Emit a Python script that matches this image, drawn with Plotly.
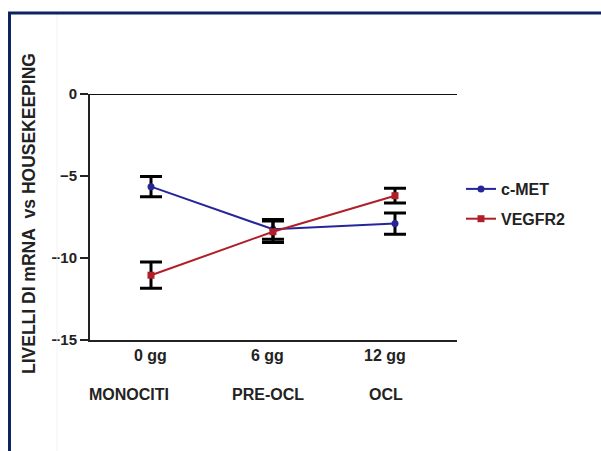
import plotly.graph_objects as go

# ---- data ----
days = [0, 6, 12]
day_labels = ["0 gg", "6 gg", "12 gg"]
stage_labels = ["MONOCITI", "PRE-OCL", "OCL"]

cmet = [-5.65, -8.25, -7.9]
cmet_err = [0.62, 0.6, 0.65]
vegfr2 = [-11.05, -8.4, -6.2]
vegfr2_err = [0.8, 0.65, 0.45]

y_ticks = [0, -5, -10, -15]

# ---- layout geometry (px) ----
W, H = 601, 451
L, R, T, B = 90, 457, 94, 340

def px_x(px):
    return (px - L) / (R - L)

def px_y(py):
    return (B - py) / (B - T)

FONT = "Liberation Sans, Arial, sans-serif"
BLUE = "#26269a"
RED = "#b01f28"

fig = go.Figure()
fig.add_trace(go.Scatter(
    x=days, y=cmet, name="c-MET", mode="lines+markers",
    line=dict(color=BLUE, width=2),
    marker=dict(symbol="circle", size=7, color=BLUE),
    error_y=dict(type="data", array=cmet_err, color="black", thickness=3, width=11),
    legendgroup="a",
))
fig.add_trace(go.Scatter(
    x=days, y=vegfr2, name="VEGFR2", mode="lines+markers",
    line=dict(color=RED, width=2),
    marker=dict(symbol="square", size=7, color=RED),
    error_y=dict(type="data", array=vegfr2_err, color="black", thickness=3, width=11),
    legendgroup="b",
))

# label annotations
row1_shift = [-1, -5, -10]
row2_shift = [-22, -5, -9]
annotations = []
for d, lab, s in zip(days, day_labels, row1_shift):
    annotations.append(dict(x=d, xref="x", y=px_y(355), yref="paper", text=lab,
                            showarrow=False, xshift=s, xanchor="center", yanchor="middle",
                            font=dict(family=FONT, size=16, color="#222", weight="bold")))
for d, lab, s in zip(days, stage_labels, row2_shift):
    annotations.append(dict(x=d, xref="x", y=px_y(394), yref="paper", text=lab,
                            showarrow=False, xshift=s, xanchor="center", yanchor="middle",
                            font=dict(family=FONT, size=16, color="#222", weight="bold")))
annotations.append(dict(x=px_x(29), xref="paper", y=px_y(214), yref="paper",
                        text="LIVELLI DI mRNA\u00a0 vs HOUSEKEEPING", textangle=-90,
                        showarrow=False, xanchor="center", yanchor="middle",
                        font=dict(family=FONT, size=17.5, color="#222", weight="bold")))

shapes = [
    # zero line
    dict(type="line", xref="paper", yref="y", x0=0, x1=1, y0=0, y1=0,
         line=dict(color="#111", width=2)),
    # faint vertical line
    dict(type="line", xref="paper", yref="paper", x0=px_x(57), x1=px_x(57),
         y0=px_y(14), y1=px_y(460), line=dict(color="#f2f2f2", width=1)),
    # navy frame
    dict(type="rect", xref="paper", yref="paper", x0=px_x(9.5), x1=px_x(700),
         y0=px_y(13), y1=px_y(700), line=dict(color="#0c2462", width=3)),
]

fig.update_layout(
    width=W, height=H,
    margin=dict(l=L, r=W - R, t=T, b=H - B, pad=0),
    paper_bgcolor="white", plot_bgcolor="white",
    font=dict(family=FONT, color="#222"),
    showlegend=True,
    legend=dict(x=px_x(461), y=px_y(172), xanchor="left", yanchor="top",
                font=dict(family=FONT, size=16, color="#222", weight="bold"),
                tracegroupgap=6, bgcolor="rgba(0,0,0,0)"),
    annotations=annotations,
    shapes=shapes,
)
fig.update_xaxes(range=[-3.0, 15.05], showgrid=False, zeroline=False,
                 showline=True, linecolor="#222", linewidth=2,
                 showticklabels=False, ticks="")
fig.update_yaxes(range=[-15, 0], tickvals=y_ticks, showgrid=False, zeroline=False,
                 showline=True, linecolor="#222", linewidth=2,
                 ticks="outside", ticklen=8, tickwidth=2, tickcolor="#222",
                 tickfont=dict(family=FONT, size=15, color="#222", weight="bold"))

fig.write_html("out.html")
